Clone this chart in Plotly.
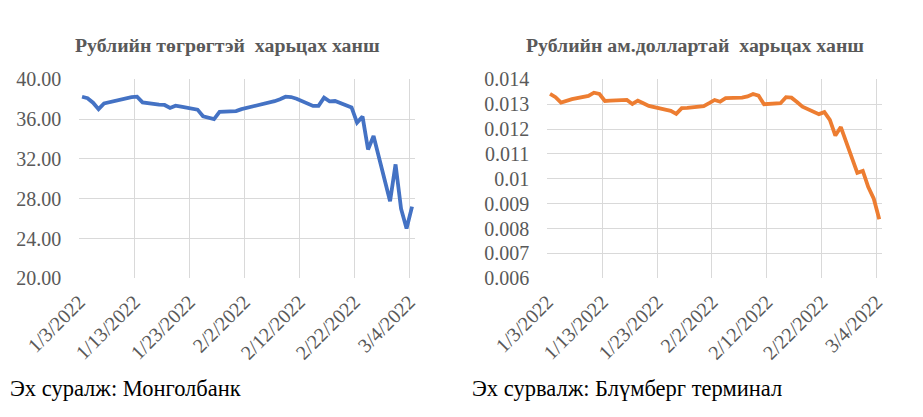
import plotly.graph_objects as go
import pandas as pd

dates = [
    "2022-01-03", "2022-01-04", "2022-01-05", "2022-01-06", "2022-01-07",
    "2022-01-10", "2022-01-11", "2022-01-12", "2022-01-13", "2022-01-14",
    "2022-01-17", "2022-01-18", "2022-01-19", "2022-01-20", "2022-01-21",
    "2022-01-24", "2022-01-25", "2022-01-26", "2022-01-27", "2022-01-28",
    "2022-01-31", "2022-02-01", "2022-02-02", "2022-02-03", "2022-02-04",
    "2022-02-07", "2022-02-08", "2022-02-09", "2022-02-10", "2022-02-11",
    "2022-02-14", "2022-02-15", "2022-02-16", "2022-02-17", "2022-02-18",
    "2022-02-21", "2022-02-22", "2022-02-23", "2022-02-24", "2022-02-25",
    "2022-02-28", "2022-03-01", "2022-03-02", "2022-03-03", "2022-03-04",
]

rub_mnt = [
    38.25, 38.10, 37.65, 37.00, 37.58,
    38.00, 38.10, 38.20, 38.25, 37.68,
    37.45, 37.42, 37.12, 37.35, 37.25,
    36.95, 36.28, 36.10, 36.00, 36.72,
    36.80, 37.00, 37.12, 37.25, 37.35,
    37.80, 38.00, 38.25, 38.22, 38.05,
    37.33, 37.33, 38.15, 37.78, 37.82,
    37.17, 35.65, 36.25, 32.95, 34.30,
    27.75, 31.45, 27.00, 25.00, 27.20,
]

rub_usd = [
    0.01341, 0.01328, 0.01306, 0.01313, 0.01320,
    0.01333, 0.01346, 0.01341, 0.01313, 0.01314,
    0.01317, 0.01301, 0.01314, 0.01304, 0.01293,
    0.01278, 0.01273, 0.01261, 0.01284, 0.01285,
    0.01292, 0.01304, 0.01317, 0.01310, 0.01324,
    0.01326, 0.01331, 0.01341, 0.01334, 0.01300,
    0.01304, 0.01328, 0.01326, 0.01309, 0.01290,
    0.01260, 0.01268, 0.01237, 0.01174, 0.01208,
    0.01024, 0.01032, 0.00967, 0.00920, 0.00837,
]

x_tick_labels = ["1/3/2022", "1/13/2022", "1/23/2022", "2/2/2022",
                 "2/12/2022", "2/22/2022", "3/4/2022"]
y1_ticks = [20, 24, 28, 32, 36, 40]
y2_ticks = [0.006, 0.007, 0.008, 0.009, 0.010, 0.011, 0.012, 0.013, 0.014]
y2_labels = ["0.006", "0.007", "0.008", "0.009", "0.01", "0.011", "0.012", "0.013", "0.014"]

title_left = "Рублийн төгрөгтэй  харьцах ханш"
title_right = "Рублийн ам.доллартай  харьцах ханш"
source_left = "Эх суралж: Монголбанк"
source_right = "Эх сурвалж: Блүмберг терминал"

# page body has an 8px margin, so the figure is 8px smaller and positions are shifted
OFF = 8
W, H = 923 - OFF, 417 - OFF
FONT = '"Liberation Serif", "Times New Roman", "DejaVu Serif", serif'
GREY = "#595959"
GRID = "#d9d9d9"
CLEAR = "rgba(0,0,0,0)"

def px(x):
    return (x - OFF) / W

def py(y):
    return 1 - (y - OFF) / H

# Excel-style date axis: category boundaries at the gridlines, points centred
tick_pos = pd.date_range("2022-01-02 12:00", periods=len(x_tick_labels), freq="10D")
x_range = ["2022-01-02 12:00", "2022-03-04 12:00"]

fig = go.Figure()
fig.add_trace(go.Scatter(x=dates, y=rub_mnt, mode="lines", xaxis="x", yaxis="y",
                         line=dict(color="#4472C4", width=3.8), showlegend=False))
fig.add_trace(go.Scatter(x=dates, y=rub_usd, mode="lines", xaxis="x2", yaxis="y2",
                         line=dict(color="#ED7D31", width=3.8), showlegend=False))

def xaxis(domain, anchor):
    return dict(domain=domain, anchor=anchor, type="date", range=x_range,
                tickvals=list(tick_pos), ticktext=x_tick_labels, tickangle=-45,
                showgrid=True, gridcolor=GRID, gridwidth=1, zeroline=False,
                showline=False, ticks="outside", ticklen=3, tickcolor=CLEAR,
                automargin=False,
                tickfont=dict(family=FONT, size=20, color=GREY))

def yaxis(domain, anchor, rng, vals, labels):
    return dict(domain=domain, anchor=anchor, range=rng, tickvals=vals, ticktext=labels,
                showgrid=True, gridcolor=GRID, gridwidth=1, zeroline=False,
                showline=False, ticks="outside", ticklen=13, tickcolor=CLEAR,
                automargin=False,
                tickfont=dict(family=FONT, size=20, color=GREY))

ydom = [py(278.3), py(79.3)]
fig.update_layout(
    width=W, height=H,
    margin=dict(l=0, r=0, t=0, b=0, autoexpand=False),
    paper_bgcolor="white", plot_bgcolor="white",
    xaxis=xaxis([px(79.3), px(414.8)], "y"),
    yaxis=yaxis(ydom, "x", [20, 40], y1_ticks, [f"{v:.2f}" for v in y1_ticks]),
    xaxis2=xaxis([px(547.3), px(882)], "y2"),
    yaxis2=yaxis(ydom, "x2", [0.006, 0.014], y2_ticks, y2_labels),
)

annotations = [
    dict(text=f"<b>{title_left}</b>", x=px(227), y=py(45), xref="paper", yref="paper",
         xanchor="center", yanchor="middle", showarrow=False,
         font=dict(family=FONT, size=19.8, color=GREY)),
    dict(text=f"<b>{title_right}</b>", x=px(695), y=py(45), xref="paper", yref="paper",
         xanchor="center", yanchor="middle", showarrow=False,
         font=dict(family=FONT, size=19.8, color=GREY)),
    dict(text=source_left, x=0, y=py(388), xref="paper", yref="paper",
         xanchor="left", yanchor="middle", showarrow=False,
         font=dict(family=FONT, size=22.5, color="black")),
    dict(text=source_right, x=px(470), y=py(388), xref="paper", yref="paper",
         xanchor="left", yanchor="middle", showarrow=False,
         font=dict(family=FONT, size=22.5, color="black")),
]
fig.update_layout(annotations=annotations)

fig.write_html("out.html")
